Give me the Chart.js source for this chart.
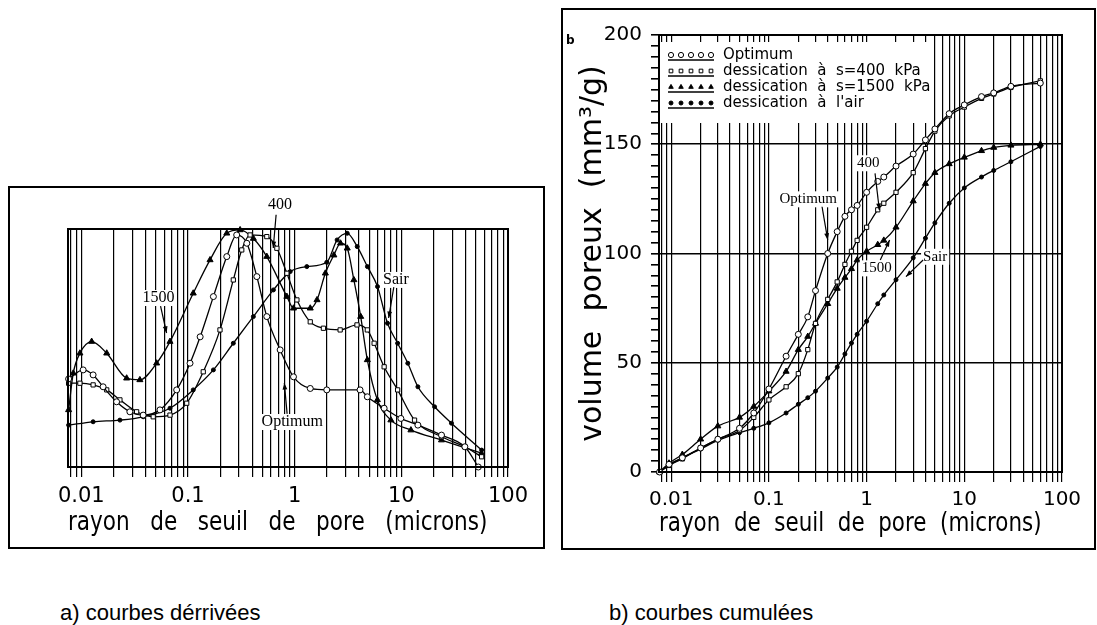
<!DOCTYPE html>
<html>
<head>
<meta charset="utf-8">
<script src="https://cdn.jsdelivr.net/npm/chart.js"></script>
<style>
  body { margin: 0; width: 1097px; height: 625px; position: relative; overflow: hidden; background: #fff; }
  .cadre { position: absolute; border: 2px solid #000; box-sizing: border-box; }
  canvas { position: absolute; }
  .legende { position: absolute; font-family: "Liberation Sans", Arial, sans-serif; font-size: 22px; color: #000; }
</style>
</head>
<body>
<div class="cadre" style="left:8px;top:186px;width:537px;height:363px"></div>
<canvas id="derivees" width="536" height="361" style="left:9px;top:187px"></canvas>
<div class="cadre" style="left:561px;top:8px;width:535px;height:542px"></div>
<canvas id="cumulees" width="533" height="540" style="left:562px;top:9px"></canvas>
<div class="legende" style="left:60px;top:600px">a) courbes dérrivées</div>
<div class="legende" style="left:609px;top:600px">b) courbes cumulées</div>

<script>
// noms des séries
const etats = ["Optimum", "dessication à s=400 kPa", "dessication à s=1500 kPa", "dessication à l'air"];
const decades = [0.01, 0.1, 1, 10, 100];

// a) courbes dérivées (rayon en microns, valeur relative)
const derOptR = [0.0076, 0.0104, 0.0129, 0.016, 0.0214, 0.0285, 0.038, 0.0546, 0.0783, 0.1045, 0.13, 0.173, 0.231, 0.286, 0.356, 0.442, 0.548, 0.731, 0.975, 1.4, 2.0, 4.1, 4.8, 6.9, 9.9, 14.3, 23.8, 39.4, 52.7];
const derOptV = [37, 40.8, 38.7, 33.7, 27.4, 23.2, 21.8, 24, 32.4, 43.6, 54.7, 71.6, 88.4, 97.5, 94, 80, 63.2, 49.2, 37.9, 33, 32.4, 32.4, 29.5, 24.7, 20.4, 17.6, 13.4, 8.5, 0];
const der400R = [0.0076, 0.0097, 0.0129, 0.0173, 0.023, 0.033, 0.0472, 0.0678, 0.0973, 0.139, 0.1995, 0.266, 0.319, 0.382, 0.548, 0.681, 0.845, 1.05, 1.4, 1.86, 2.67, 3.84, 4.8, 5.56, 6.9, 9.23, 13.3, 23.8, 39.4, 56.6];
const der400V = [35.2, 35.2, 34.5, 32.4, 28.2, 23.2, 21.1, 21.8, 26.8, 40, 57.6, 78.6, 91.2, 97.5, 96.8, 91.9, 81.4, 70.2, 61, 58.3, 57.6, 59.7, 57.6, 52, 42.1, 32.4, 19.7, 12.7, 8.5, 4.3];
const der1500R = [0.0076, 0.0084, 0.0097, 0.0125, 0.0173, 0.0266, 0.0354, 0.0508, 0.0678, 0.112, 0.161, 0.231, 0.308, 0.41, 0.548, 0.845, 0.975, 1.4, 1.62, 1.94, 2.33, 2.69, 3.11, 3.59, 4.16, 4.8, 5.96, 7.98, 12.3, 23.8, 56.4];
const der1500V = [24, 39.4, 47.8, 52.7, 47.8, 37.3, 36.6, 43.6, 52.7, 73, 87, 98.2, 99.6, 96, 88.4, 71.6, 66.7, 66.7, 70.2, 81.4, 89, 94, 91.9, 78.6, 63.2, 45, 28.2, 19.7, 15.5, 11.3, 5.8];
const derAirR = [0.0076, 0.0129, 0.023, 0.038, 0.0678, 0.112, 0.173, 0.266, 0.41, 0.632, 0.908, 1.3, 2.0, 2.5, 3.11, 3.86, 4.81, 5.98, 7.42, 9.23, 11.5, 14.3, 20.5, 29.5, 56.6];
const derAirV = [17.6, 19, 19.7, 21.1, 24.7, 32.4, 40.8, 52, 63.2, 74.4, 82.1, 84.2, 86, 95.4, 98.2, 92.6, 84.2, 75.8, 60.4, 52, 43.6, 33.7, 25.3, 18.4, 7.1];

// b) courbes cumulées (mm3/g)
const cumR = [0.0076, 0.0095, 0.013, 0.02, 0.03, 0.05, 0.07, 0.1, 0.15, 0.2, 0.25, 0.3, 0.4, 0.5, 0.6, 0.7, 0.8, 1, 1.3, 1.5, 2, 3, 4, 5, 7, 10, 15, 20, 30, 60];
const cumOpt  = [0, 3.5, 6.5, 11, 15, 20, 27, 38, 53, 63, 71, 83, 100, 110, 117, 120, 122, 128, 133, 135, 140, 145.5, 152, 157, 164, 168, 171.8, 173.5, 176.5, 178];
const cum400  = [0, 3, 6, 11, 15, 19, 25, 33, 39, 45, 56, 68, 79, 87, 95, 101, 106, 112, 120, 123, 128, 137, 148, 156, 163, 167, 171, 173, 176, 179];
const cum1500 = [0, 4, 8, 15, 21, 25, 30, 37, 46, 56, 62, 68, 77, 84, 89, 93, 97, 101, 104, 106, 112, 124, 132, 137, 141, 144, 147, 148.5, 149.5, 150];
const cumAir  = [0, 3, 6.5, 10.5, 14.5, 18, 20, 22.5, 27, 31, 34, 37, 43, 48, 54, 59, 63, 69, 77, 81, 88, 98, 107, 114, 123, 130, 135, 138, 142, 149];
const yTicksCum = [0, 50, 100, 150, 200];

// étiquettes fléchées, en coordonnées des données
const notesDer = [
  { txt: "400", r: 0.73, v: 110, de: [0.67, 106], a: [0.63, 92] },
  { txt: "1500", r: 0.053, v: 71, de: [0.0553, 67.6], a: [0.063, 56.3] },
  { txt: "Sair", r: 8.9, v: 78.6, de: [8.5, 75.6], a: [7.6, 62.6] },
  { txt: "Optimum", r: 0.95, v: 18.9, de: [0.85, 22.3], a: [0.8, 35.3] }
];
const notesCum = [
  { txt: "400", r: 1.04, v: 141.3, de: [1.22, 136.7], a: [1.35, 119.9] },
  { txt: "Optimum", r: 0.253, v: 124.8, de: [0.35, 121.4], a: [0.4, 106.2] },
  { txt: "1500", r: 1.27, v: 93.2, de: [1.38, 97], a: [1.72, 106.2] },
  { txt: "Sair", r: 5.03, v: 98.5, de: [3.79, 97], a: [2.53, 89.4] }
];

Chart.defaults.font.family = "'DejaVu Sans', sans-serif";
Chart.defaults.color = "#000";

const marques = [
  { ps: "circle", rad: 3, fill: "#fff" },
  { ps: "rect", rad: 3, fill: "#fff" },
  { ps: "triangle", rad: 3.5, fill: "#000" },
  { ps: "circle", rad: 2, fill: "#000" }
];

function serie(i, xs, ys) {
  const m = marques[i];
  return {
    label: etats[i],
    data: xs.map((x, k) => ({ x: x, y: ys[k] })),
    showLine: true,
    borderColor: "#000",
    borderWidth: 1.3,
    pointStyle: m.ps,
    pointRadius: m.rad,
    pointBackgroundColor: m.fill,
    pointBorderColor: "#000",
    pointBorderWidth: 1,
    cubicInterpolationMode: "monotone",
    clip: false
  };
}

function ticksLog(scale) {
  const t = [];
  for (let e = -3; e <= 2; e++) {
    for (let m = 1; m <= 9; m++) {
      const v = +(m * Math.pow(10, e)).toPrecision(3);
      if (v >= scale.min && v <= scale.max) t.push({ value: v });
    }
  }
  scale.ticks = t;
}

function etiquetteLog(v) {
  return decades.includes(v) ? String(v) : "";
}

// cadre autour de la zone du graphique
const cadrePlugin = {
  id: "cadre",
  afterDraw(chart) {
    const a = chart.chartArea, ctx = chart.ctx;
    ctx.save();
    ctx.strokeStyle = "#000";
    ctx.lineWidth = 2;
    ctx.strokeRect(a.left, a.top, a.right - a.left, a.bottom - a.top);
    ctx.restore();
  }
};

// textes et flèches
const notesPlugin = {
  id: "notes",
  afterDraw(chart, args, opts) {
    const ctx = chart.ctx, sx = chart.scales.x, sy = chart.scales.y;
    ctx.save();
    ctx.font = opts.font;
    ctx.textAlign = "center";
    ctx.textBaseline = "middle";
    opts.items.forEach(n => {
      const px = sx.getPixelForValue(n.r), py = sy.getPixelForValue(n.v);
      const w = ctx.measureText(n.txt).width;
      ctx.fillStyle = "#fff";
      ctx.fillRect(px - w / 2 - 2, py - 8, w + 4, 16);
      ctx.fillStyle = "#000";
      ctx.fillText(n.txt, px, py);
      const x0 = sx.getPixelForValue(n.de[0]), y0 = sy.getPixelForValue(n.de[1]);
      const x1 = sx.getPixelForValue(n.a[0]), y1 = sy.getPixelForValue(n.a[1]);
      ctx.strokeStyle = "#000";
      ctx.lineWidth = 1.2;
      ctx.beginPath();
      ctx.moveTo(x0, y0);
      ctx.lineTo(x1, y1);
      ctx.stroke();
      const ang = Math.atan2(y1 - y0, x1 - x0);
      ctx.beginPath();
      ctx.moveTo(x1, y1);
      ctx.lineTo(x1 - 7 * Math.cos(ang - 0.35), y1 - 7 * Math.sin(ang - 0.35));
      ctx.lineTo(x1 - 7 * Math.cos(ang + 0.35), y1 - 7 * Math.sin(ang + 0.35));
      ctx.closePath();
      ctx.fill();
    });
    if (opts.coin) {
      ctx.font = "bold 12px 'DejaVu Sans'";
      ctx.textAlign = "left";
      ctx.fillText(opts.coin, chart.chartArea.left - 93, chart.chartArea.top + 6);
    }
    ctx.restore();
  }
};

// légende encadrée dans le coin haut gauche
const legendePlugin = {
  id: "legendeBoite",
  afterDraw(chart, args, opts) {
    if (!opts.show) return;
    const ctx = chart.ctx, a = chart.chartArea;
    ctx.save();
    ctx.fillStyle = "#fff";
    ctx.fillRect(a.left + 2, a.top + 7, 272, 81);
    ctx.font = "15px 'DejaVu Sans'";
    ctx.textAlign = "left";
    ctx.textBaseline = "middle";
    chart.data.datasets.forEach((ds, i) => {
      const yy = a.top + 20 + i * 16;
      ctx.strokeStyle = "#000";
      ctx.lineWidth = 1.5;
      ctx.beginPath();
      ctx.moveTo(a.left + 9, yy + 5);
      ctx.lineTo(a.left + 55, yy + 5);
      ctx.stroke();
      for (let k = 0; k < 5; k++) {
        ctx.fillStyle = ds.pointBackgroundColor;
        ctx.lineWidth = 1;
        Chart.helpers.drawPoint(ctx, { pointStyle: ds.pointStyle, radius: Math.min(ds.pointRadius, 2.6), borderWidth: 1, rotation: 0 }, a.left + 12 + k * 10, yy);
      }
      ctx.fillStyle = "#000";
      ctx.fillText(ds.label.replace(/ /g, "  "), a.left + 64, yy);
    });
    ctx.restore();
  }
};

new Chart(document.getElementById("derivees"), {
  type: "scatter",
  data: {
    datasets: [
      serie(0, derOptR, derOptV),
      serie(1, der400R, der400V),
      serie(2, der1500R, der1500V),
      serie(3, derAirR, derAirV)
    ]
  },
  options: {
    responsive: false,
    animation: false,
    layout: { padding: { left: 59, top: 42, right: 37, bottom: 0 } },
    scales: {
      x: {
        type: "logarithmic",
        min: 0.0075,
        max: 100,
        afterBuildTicks: ticksLog,
        afterFit: s => { s.height = 81; },
        ticks: { autoSkip: false, maxRotation: 0, padding: 7, font: { size: 21 }, callback: etiquetteLog },
        grid: { color: "#000", lineWidth: 1.2, tickLength: 10 },
        border: { color: "#000", width: 2 },
        title: { display: true, text: "rayon   de   seuil   de   pore   (microns)   ", font: { size: 26 }, padding: { top: 0, bottom: 9 } }
      },
      y: { display: false, min: 0, max: 100 }
    },
    plugins: {
      legend: { display: false },
      tooltip: { enabled: false },
      notes: { items: notesDer, font: "16px 'Liberation Serif'" },
      legendeBoite: { show: false }
    }
  },
  plugins: [cadrePlugin, notesPlugin, legendePlugin]
});

new Chart(document.getElementById("cumulees"), {
  type: "scatter",
  data: {
    datasets: [
      serie(0, cumR, cumOpt),
      serie(1, cumR, cum400),
      serie(2, cumR, cum1500),
      serie(3, cumR, cumAir)
    ]
  },
  options: {
    responsive: false,
    animation: false,
    layout: { padding: { left: 0, top: 26, right: 33, bottom: 0 } },
    scales: {
      x: {
        type: "logarithmic",
        min: 0.0075,
        max: 100,
        afterBuildTicks: ticksLog,
        afterFit: s => { s.height = 77; },
        ticks: { autoSkip: false, maxRotation: 0, padding: 6, font: { size: 20 }, callback: etiquetteLog },
        grid: { color: "#000", lineWidth: 1.2, tickLength: 10 },
        border: { color: "#000", width: 2 },
        title: { display: true, text: "rayon  de  seuil  de  pore  (microns)   ", font: { size: 26 }, padding: { top: 0, bottom: 9 } }
      },
      y: {
        min: 0,
        max: 200,
        afterBuildTicks: s => {
          const t = [];
          for (let v = 0; v <= 200; v += 5) t.push({ value: v });
          s.ticks = t;
        },
        afterFit: s => { s.width = 97; },
        ticks: { autoSkip: false, padding: 9, font: { size: 20 }, callback: v => yTicksCum.includes(v) ? String(v) : "" },
        grid: {
          color: c => (c.tick && yTicksCum.includes(c.tick.value)) ? "#000" : "rgba(0,0,0,0)",
          tickColor: "#000",
          lineWidth: 1.6,
          tickLength: 8
        },
        border: { color: "#000", width: 2 },
        title: { display: true, text: "volume  poreux  (mm³/g)", font: { size: 30 }, padding: { top: 13, bottom: 0 } }
      }
    },
    plugins: {
      legend: { display: false },
      tooltip: { enabled: false },
      notes: { items: notesCum, font: "15px 'Liberation Serif'", coin: "b" },
      legendeBoite: { show: true }
    }
  },
  plugins: [cadrePlugin, notesPlugin, legendePlugin]
});
</script>
</body>
</html>
